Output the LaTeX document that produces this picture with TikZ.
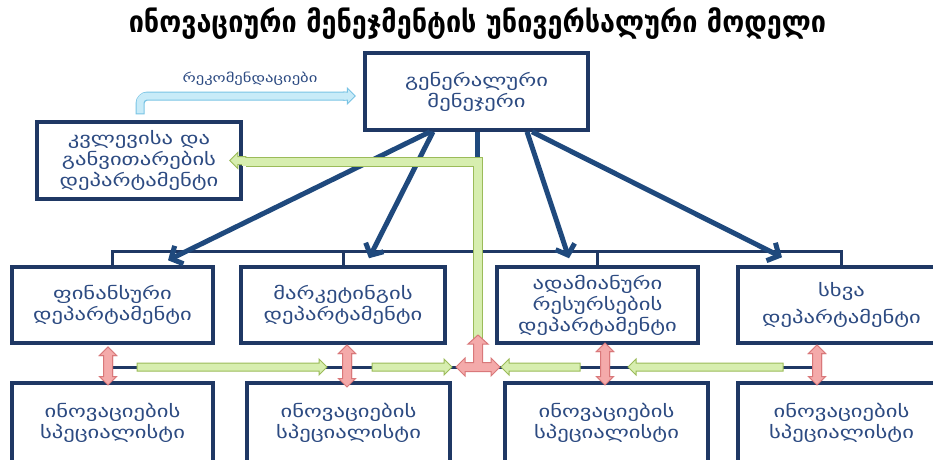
\documentclass[tikz,border=0pt]{standalone}
\usepackage{fontspec}
\setmainfont{DejaVu Sans}[FakeStretch=1.33]
\newfontfamily\titlefont{DejaVu Sans}[FakeStretch=0.9]
\usetikzlibrary{arrows.meta,calc,shapes.arrows}
\definecolor{boxline}{RGB}{31,56,100}
\definecolor{navy}{RGB}{31,73,125}
\definecolor{txtblue}{RGB}{45,75,130}
\definecolor{grfill}{RGB}{215,238,175}
\definecolor{grline}{RGB}{155,187,89}
\definecolor{rdfill}{RGB}{244,170,170}
\definecolor{rdline}{RGB}{217,120,122}
\definecolor{lbfill}{RGB}{200,235,248}
\definecolor{lbline}{RGB}{120,195,228}
\begin{document}
\begin{tikzpicture}[x=1pt,y=-1pt,
  box/.style={draw=boxline,line width=3.5pt,fill=white,align=center,text=txtblue,
    font=\fontsize{17}{21}\selectfont,inner sep=0pt},
  bigarrow/.style={navy,line width=5pt,-{Straight Barb[length=9pt,width=20pt]}},
  bus/.style={boxline,line width=3pt},
  grarrow/.style={single arrow,draw=grline,fill=grfill,line width=1pt,minimum width=15pt,
    single arrow head extend=4pt,inner xsep=0pt,inner ysep=3.5pt},
  lbarrow/.style={single arrow,draw=lbline,fill=lbfill,line width=1pt,minimum width=15pt,
    single arrow head extend=4pt,inner xsep=0pt,inner ysep=3.5pt},
  rdarrow/.style={double arrow,draw=rdline,fill=rdfill,line width=1pt,minimum width=16pt,
    double arrow head extend=4pt,inner xsep=0pt,inner ysep=4pt,rotate=90}]
\clip (0,0) rectangle (933,459);

\node[text=black,font=\titlefont\bfseries\fontsize{30}{32}\selectfont] (title) at (477.5,24)
  {ინოვაციური მენეჯმენტის უნივერსალური მოდელი};

% bus lines behind the boxes
\coordinate (jn) at (478,367);
\node[box,minimum width=201pt,minimum height=76pt] (fin) at (112.5,305) {};
\node[box,minimum width=204pt,minimum height=76pt] (mkt) at (343,305) {};
\node[box,minimum width=201pt,minimum height=76pt] (hr) at (597.5,305) {};
\node[box,minimum width=207pt,minimum height=76pt] (oth) at (841.5,305) {};
\draw[bus] (fin.north) -- ++(0,-14) -| (oth.north);
\draw[bus] (mkt.north) -- ++(0,-14);
\draw[bus] (hr.north) -- ++(0,-14);

\node[rdarrow,minimum height=38pt] (rfin) at (108,366) {};
\node[rdarrow,minimum height=42pt] (rmkt) at (347,366) {};
\node[rdarrow,minimum height=42pt] (rhr) at (605,364) {};
\node[rdarrow,minimum height=40pt] (roth) at (817,365) {};
\draw[bus] (rfin |- jn) -- (roth |- jn);

\node[box,minimum width=223pt,minimum height=77pt] (gm) at (476.5,91.5) {გენერალური\\მენეჯერი};
\node[box,minimum width=204pt,minimum height=77pt] (rd) at (139,160.5) {კვლევისა და\\განვითარების\\დეპარტამენტი};
\node[box,minimum width=201pt,minimum height=76pt] at (fin) {ფინანსური\\დეპარტამენტი};
\node[box,minimum width=204pt,minimum height=76pt] at (mkt) {მარკეტინგის\\დეპარტამენტი};
\node[box,minimum width=201pt,minimum height=76pt] at (hr) {ადამიანური\\რესურსების\\დეპარტამენტი};
\node[box,minimum width=207pt,minimum height=76pt] at (oth) {სხვა\\[6pt]დეპარტამენტი};

\node[box,minimum width=201pt,minimum height=80pt] (fins) at (112.5,423) {ინოვაციების\\სპეციალისტი};
\node[box,minimum width=203pt,minimum height=80pt] (mkts) at (348.5,423) {ინოვაციების\\სპეციალისტი};
\node[box,minimum width=203pt,minimum height=80pt] (hrs) at (606.5,423) {ინოვაციების\\სპეციალისტი};
\node[box,minimum width=207pt,minimum height=80pt] (oths) at (841.5,423) {ინოვაციების\\სპეციალისტი};

% red links between the rows
\node[rdarrow,minimum height=38pt] at (rfin) {};
\node[rdarrow,minimum height=42pt] at (rmkt) {};
\node[rdarrow,minimum height=42pt] at (rhr) {};
\node[rdarrow,minimum height=40pt] at (roth) {};

\draw[bigarrow] ($(gm.south)+(-46.5,0)$) -- ($(fin.north)+(55.5,-5)$);
\draw[bigarrow] ($(gm.south)+(-43.5,0)$) -- ($(mkt.north)+(26,-7)$);
\draw[bigarrow] ($(gm.south)+(50.5,0)$) -- ($(hr.north)+(-28.5,-7)$);
\draw[bigarrow] ($(gm.south)+(55.5,0)$) -- ($(oth.north)+(-59.5,-8)$);

% green feedback
\coordinate (gc) at ($(gm.south)+(1,30.5)$);
\draw[navy,line width=5pt] (gm.south -| gc) -- (gc);
\draw[grline,line width=10pt] ($(gc)+(-232,0)$) -- (gc) -- ($(gc)+(0,185)$);
\node[grarrow,rotate=180,minimum height=16pt] at ($(rd.east)+(-3,0)$) {};
\draw[grfill,line width=8pt] ($(gc)+(-236,0)$) -- (gc) -- ($(gc)+(0,185)$);

\node[grarrow,minimum height=190pt] at (230,367) {};
\node[grarrow,minimum height=80pt] at (410,367) {};
\node[grarrow,rotate=180,minimum height=79pt] at (542.5,367) {};
\node[grarrow,rotate=180,minimum height=155pt] at (707.5,367) {};

\draw[draw=rdline,fill=rdfill,line width=1pt,shift={(jn)}] (0,-32) -- (10,-23) -- (4.5,-23)
  -- (4.5,-4.5) -- (13,-4.5) -- (13,-9) -- (22,0) -- (13,9) -- (13,4.5) -- (-13,4.5)
  -- (-13,9) -- (-22,0) -- (-13,-9) -- (-13,-4.5) -- (-4.5,-4.5) -- (-4.5,-23)
  -- (-10,-23) -- cycle;

% recommendations
\coordinate (rb) at ($(rd.north)+(1,-7)$);
\draw[lbline,line width=9pt,rounded corners=8pt,shorten <=-1pt] (rb) |- ($(gm.west)+(-18,4.5)$);
\node[lbarrow,minimum height=12pt] (lbh) at ($(gm.west)+(-16,4.5)$) {};
\draw[lbfill,line width=7pt,rounded corners=7pt] (rb) |- ($(gm.west)+(-17,4.5)$);
\node[text=txtblue,font=\fontsize{12.5}{14}\selectfont] (rec) at (250,79) {რეკომენდაციები};
\end{tikzpicture}
\end{document}
